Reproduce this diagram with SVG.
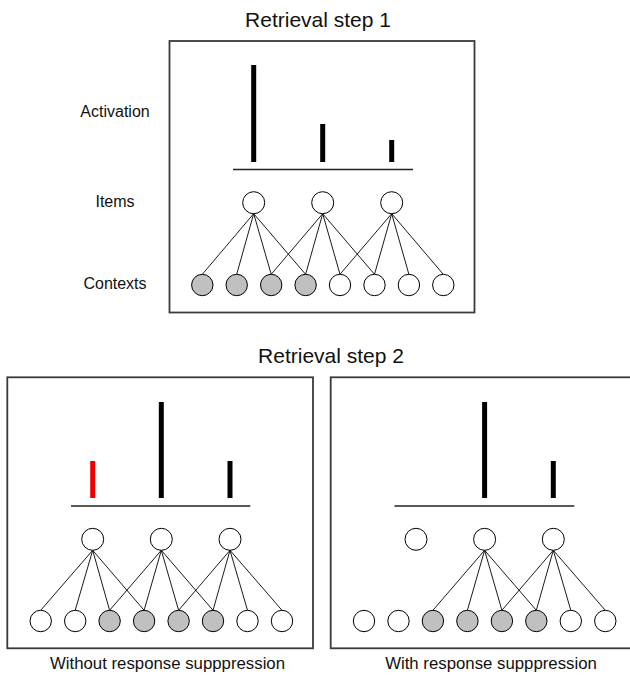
<svg xmlns="http://www.w3.org/2000/svg" width="630" height="675" viewBox="0 0 630 675">
<style>
.box{fill:#fff;stroke:#3a3a3a;stroke-width:1.8}
.t{font-family:"Liberation Sans",Arial,sans-serif;fill:#111;text-anchor:middle}
.lab{font-size:16px}
.title{font-size:21px}
.cap{font-size:16.8px}
.bar{fill:#000}
.red{fill:#ee0000}
.base{stroke:#222;stroke-width:1.5}
.n{fill:#fff;stroke:#000;stroke-width:1}
.g{fill:#c0c0c0;stroke:#000;stroke-width:1}
.e{stroke:#000;stroke-width:0.9;fill:none}
</style>
<rect width="630" height="675" fill="#fff"/>

<!-- Retrieval step 1 -->
<text class="t title" x="318" y="27">Retrieval step 1</text>
<rect class="box" x="169.5" y="41" width="305" height="271.5"/>
<text class="t lab" x="115" y="117">Activation</text>
<text class="t lab" x="115" y="207">Items</text>
<text class="t lab" x="115" y="288.5">Contexts</text>
<g id="bars1">
<rect class="bar" x="251.2" y="65" width="5" height="97"/>
<rect class="bar" x="320.2" y="124" width="5" height="38"/>
<rect class="bar" x="389.2" y="140" width="5" height="22"/>
<line class="base" x1="233" y1="169.5" x2="413" y2="169.5"/>
</g>
<g id="edges1">
<path class="e" d="M253.7 213.7L202.3 274.3M253.7 213.7L236.7 274.3M253.7 213.7L271.2 274.3M253.7 213.7L305.6 274.3
M322.7 213.7L271.2 274.3M322.7 213.7L305.6 274.3M322.7 213.7L340 274.3M322.7 213.7L374.5 274.3
M391.7 213.7L340 274.3M391.7 213.7L374.5 274.3M391.7 213.7L408.9 274.3M391.7 213.7L443.3 274.3"/>
</g>
<g id="item1a"><circle class="n" cx="253.7" cy="202.7" r="11"/></g>
<g id="item1b"><circle class="n" cx="322.7" cy="202.7" r="11"/></g>
<g id="item1c"><circle class="n" cx="391.7" cy="202.7" r="11"/></g>
<g id="ctx1">
<circle class="g" cx="202.3" cy="285" r="10.7"/>
<circle class="g" cx="236.7" cy="285" r="10.7"/>
<circle class="g" cx="271.2" cy="285" r="10.7"/>
<circle class="g" cx="305.6" cy="285" r="10.7"/>
<circle class="n" cx="340" cy="285" r="10.7"/>
<circle class="n" cx="374.5" cy="285" r="10.7"/>
<circle class="n" cx="408.9" cy="285" r="10.7"/>
<circle class="n" cx="443.3" cy="285" r="10.7"/>
</g>

<!-- Retrieval step 2 -->
<text class="t title" x="331" y="363.3">Retrieval step 2</text>

<!-- Without response suppression -->
<rect class="box" x="7.3" y="377.3" width="305.7" height="271"/>
<g id="bars2">
<rect class="red" x="90.2" y="461" width="5" height="37"/>
<rect class="bar" x="158.8" y="402" width="5" height="96"/>
<rect class="bar" x="227.5" y="461" width="5" height="37"/>
<line class="base" x1="71" y1="506" x2="250.3" y2="506"/>
</g>
<g id="edges2">
<path class="e" d="M92.7 550.3L40.7 610.3M92.7 550.3L75.2 610.3M92.7 550.3L109.6 610.3M92.7 550.3L144.1 610.3
M161.3 550.3L109.6 610.3M161.3 550.3L144.1 610.3M161.3 550.3L178.6 610.3M161.3 550.3L213 610.3
M230 550.3L178.6 610.3M230 550.3L213 610.3M230 550.3L247.5 610.3M230 550.3L282 610.3"/>
</g>
<g id="item2a"><circle class="n" cx="92.7" cy="539.3" r="11"/></g>
<g id="item2b"><circle class="n" cx="161.3" cy="539.3" r="11"/></g>
<g id="item2c"><circle class="n" cx="230" cy="539.3" r="11"/></g>
<g id="ctx2">
<circle class="n" cx="40.7" cy="621" r="10.7"/>
<circle class="n" cx="75.2" cy="621" r="10.7"/>
<circle class="g" cx="109.6" cy="621" r="10.7"/>
<circle class="g" cx="144.1" cy="621" r="10.7"/>
<circle class="g" cx="178.6" cy="621" r="10.7"/>
<circle class="g" cx="213" cy="621" r="10.7"/>
<circle class="n" cx="247.5" cy="621" r="10.7"/>
<circle class="n" cx="282" cy="621" r="10.7"/>
</g>
<text class="t cap" x="167.5" y="669">Without response supppression</text>

<!-- With response suppression -->
<rect class="box" x="330.7" y="377.3" width="305.7" height="271"/>
<g id="bars3">
<rect class="bar" x="482.1" y="402" width="5" height="96"/>
<rect class="bar" x="550.8" y="461" width="5" height="37"/>
<line class="base" x1="394.5" y1="506" x2="574.3" y2="506"/>
</g>
<g id="edges3">
<path class="e" d="M484.6 550.3L432.9 610.3M484.6 550.3L467.4 610.3M484.6 550.3L501.9 610.3M484.6 550.3L536.3 610.3
M553.3 550.3L501.9 610.3M553.3 550.3L536.3 610.3M553.3 550.3L570.8 610.3M553.3 550.3L605.3 610.3"/>
</g>
<g id="item3a"><circle class="n" cx="416" cy="539.3" r="11"/></g>
<g id="item3b"><circle class="n" cx="484.6" cy="539.3" r="11"/></g>
<g id="item3c"><circle class="n" cx="553.3" cy="539.3" r="11"/></g>
<g id="ctx3">
<circle class="n" cx="364" cy="621" r="10.7"/>
<circle class="n" cx="398.5" cy="621" r="10.7"/>
<circle class="g" cx="432.9" cy="621" r="10.7"/>
<circle class="g" cx="467.4" cy="621" r="10.7"/>
<circle class="g" cx="501.9" cy="621" r="10.7"/>
<circle class="g" cx="536.3" cy="621" r="10.7"/>
<circle class="n" cx="570.8" cy="621" r="10.7"/>
<circle class="n" cx="605.3" cy="621" r="10.7"/>
</g>
<text class="t cap" x="491" y="669">With response supppression</text>
</svg>
